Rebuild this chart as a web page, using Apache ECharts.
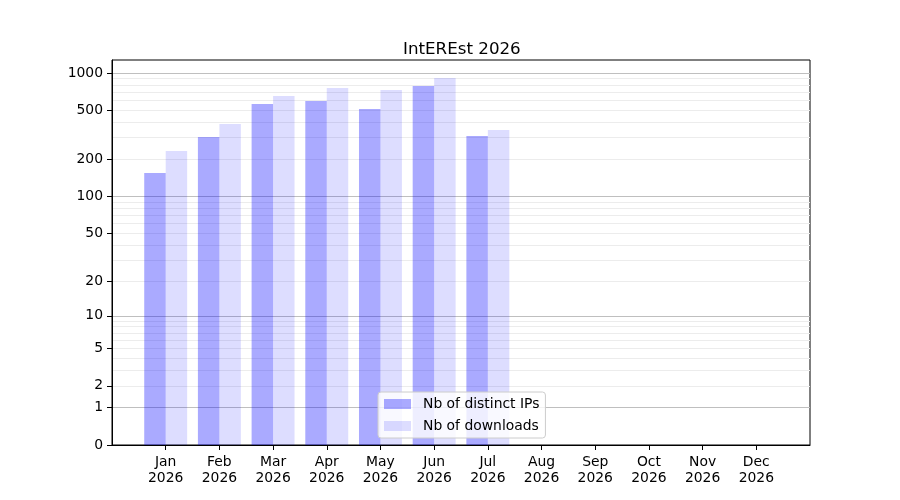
<!DOCTYPE html>
<html>
<head>
<meta charset="utf-8">
<title>IntEREst 2026</title>
<script src="https://cdn.jsdelivr.net/npm/echarts@6/dist/echarts.min.js"></script>
<style>
  html, body { margin: 0; padding: 0; background: #fff; }
  #chart { width: 900px; height: 500px; }
</style>
</head>
<body>
<div id="chart"></div>
<script>
// monthly stats
var months = ['Jan', 'Feb', 'Mar', 'Apr', 'May', 'Jun', 'Jul', 'Aug', 'Sep', 'Oct', 'Nov', 'Dec'];
var year = '2026';
var distinctIps = [155, 304, 561, 594, 512, 785, 310, 0, 0, 0, 0, 0];
var downloads = [234, 387, 652, 757, 729, 911, 347, 0, 0, 0, 0, 0];

// y ticks (log(1+x) scale)
var yTickLabels = [0, 1, 2, 5, 10, 20, 50, 100, 200, 500, 1000];
var yMajorGrid = [1, 10, 100, 1000];
var yTop = 1273;

// y axis is drawn as log10(1 + x)
function toScale(v) { return Math.log10(1 + v); }
function fromScale(v) { return Math.round(Math.pow(10, v) - 1); }

var minorGrid = [];
[1, 10, 100].forEach(function (d) {
  for (var k = 2; k <= 9; k++) minorGrid.push(d * k);
});

// empty slot on each side so the months sit one step in from the frame
var cats = [''].concat(months.map(function (m) { return m + '\n' + year; }), ['']);
function pad(arr) { return [null].concat(arr.map(toScale), [null]); }

var font = 'DejaVu Sans';
var yMax = toScale(yTop);

function gridAxis(values, color) {
  return {
    type: 'value', min: 0, max: yMax, position: 'left',
    axisLine: { show: false },
    axisLabel: { show: false },
    axisTick: { show: false, customValues: values.map(toScale) },
    splitLine: { show: true, lineStyle: { color: color, width: 1 } }
  };
}

var chart = echarts.init(document.getElementById('chart'), null, { renderer: 'canvas' });

var option = {
  animation: false,
  textStyle: { fontFamily: font },
  title: {
    text: 'IntEREst ' + year,
    left: 398, top: 36,
    textStyle: { fontFamily: font, fontSize: 16.7, fontWeight: 'normal', color: '#000' }
  },
  legend: {
    left: 378, top: 392, orient: 'vertical',
    itemWidth: 27, itemHeight: 10, itemGap: 8,
    padding: [5, 6, 5, 6],
    icon: 'rect',
    backgroundColor: 'rgba(255,255,255,0.8)',
    borderColor: '#cccccc', borderWidth: 1, borderRadius: 3,
    textStyle: { fontFamily: font, fontSize: 13.9, color: '#000', padding: [0, 0, 0, 7] },
    data: ['Nb of distinct IPs', 'Nb of downloads']
  },
  grid: {
    left: 112, right: 90, top: 60, bottom: 55,
    show: true, borderColor: '#000', borderWidth: 1, backgroundColor: 'transparent'
  },
  xAxis: {
    type: 'category', data: cats, boundaryGap: false,
    axisLine: { lineStyle: { color: '#000' } },
    axisTick: {
      length: 5, lineStyle: { color: '#000' },
      interval: function (i) { return i > 0 && i < cats.length - 1; }
    },
    axisLabel: {
      interval: 0, color: '#000', fontFamily: font, fontSize: 13.9,
      lineHeight: 16, margin: 9
    },
    splitLine: { show: false }
  },
  yAxis: [
    {
      type: 'value', min: 0, max: yMax, position: 'left',
      axisLine: { show: true, lineStyle: { color: '#000' } },
      axisTick: { show: true, length: 5, lineStyle: { color: '#000' }, customValues: yTickLabels.map(toScale) },
      axisLabel: {
        color: '#000', fontFamily: font, fontSize: 13.9, margin: 9,
        customValues: yTickLabels.map(toScale),
        formatter: function (v) { return String(fromScale(v)); }
      },
      splitLine: { show: false }
    },
    gridAxis(minorGrid, '#ececec'),
    gridAxis(yMajorGrid, '#bfbfbf')
  ],
  series: [
    {
      name: 'Nb of distinct IPs', type: 'bar', yAxisIndex: 0,
      data: pad(distinctIps),
      barGap: '0%', barCategoryGap: '20%',
      itemStyle: { color: 'rgba(0,0,255,0.333)' }
    },
    {
      name: 'Nb of downloads', type: 'bar', yAxisIndex: 0,
      data: pad(downloads),
      barGap: '0%', barCategoryGap: '20%',
      itemStyle: { color: 'rgba(0,0,255,0.133)' }
    }
  ]
};

chart.setOption(option);
</script>
</body>
</html>
